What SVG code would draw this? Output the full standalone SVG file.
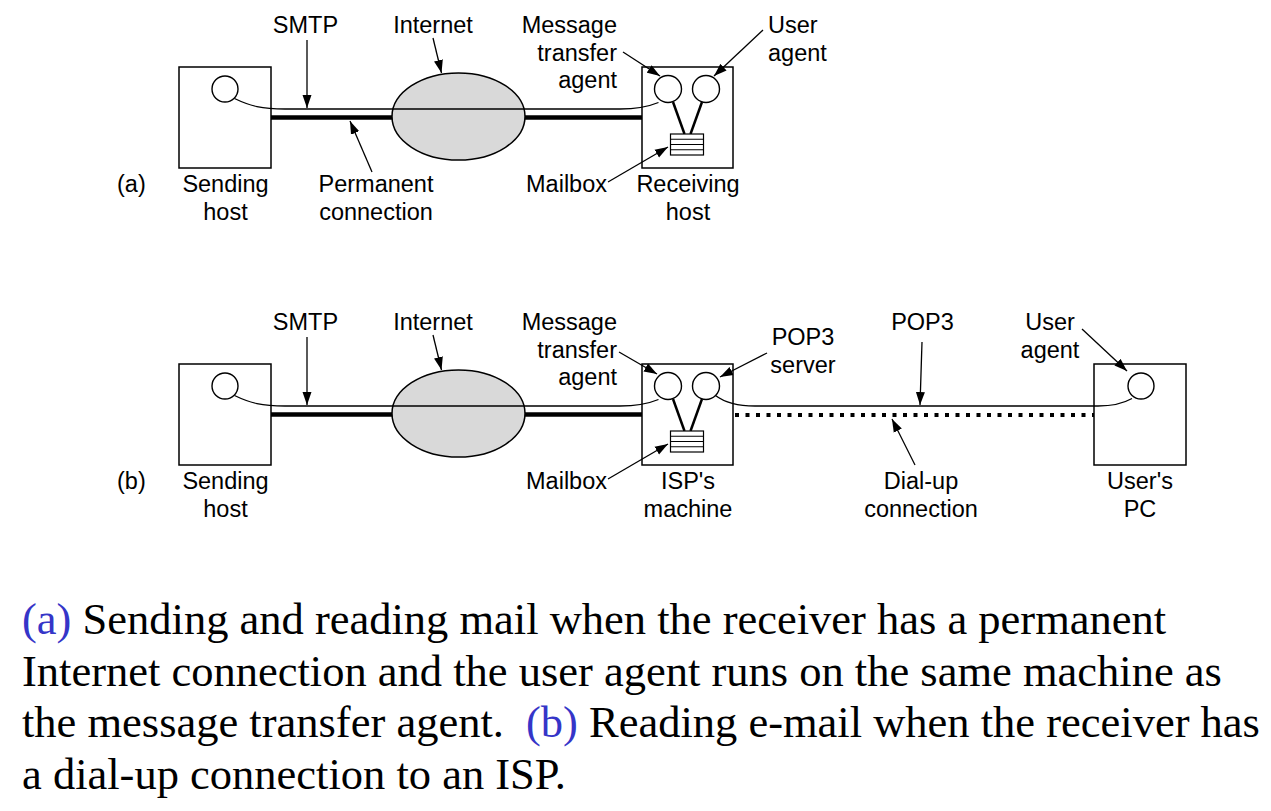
<svg xmlns="http://www.w3.org/2000/svg" width="1271" height="811" viewBox="0 0 1271 811">
<defs>
<marker id="ah" markerUnits="userSpaceOnUse" markerWidth="14" markerHeight="10" refX="13" refY="5" orient="auto">
<path d="M0,0.5 L13,5 L0,9.5 Z" fill="#000"/>
</marker>
<style>
.box{fill:#fff;stroke:#000;stroke-width:1.5}
.c{fill:#fff;stroke:#000;stroke-width:1.4}
.net{fill:#d9d9d9;stroke:#000;stroke-width:1.5}
.thin{fill:none;stroke:#000;stroke-width:1.3}
.thick{fill:none;stroke:#000;stroke-width:4.5}
.leg{fill:none;stroke:#000;stroke-width:2.5}
.dot{fill:none;stroke:#000;stroke-width:4;stroke-dasharray:4 6.5}
.arr{fill:none;stroke:#000;stroke-width:1.3;marker-end:url(#ah)}
.mb{fill:#fff;stroke:#000;stroke-width:1.2}
.t{font-family:"Liberation Sans",Arial,sans-serif;font-size:23.5px;fill:#000}
.m{text-anchor:middle}
.e{text-anchor:end}
.cap{font-family:"Liberation Serif","Times New Roman",serif;font-size:44.5px;fill:#000}
.blue{fill:#3535c8}
</style>
</defs>
<rect width="1271" height="811" fill="#fff"/>

<!-- ===== (a) ===== -->
<g id="a-sending-host">
<rect class="box" x="179" y="67" width="92" height="101"/>
<circle class="c" cx="225" cy="89" r="13"/>
</g>
<g id="a-receiving-host">
<rect class="box" x="642" y="67" width="91" height="101"/>
</g>
<g id="a-connectors">
<line class="thick" x1="271" y1="117.5" x2="395" y2="117.5"/>
<line class="thick" x1="522" y1="117.5" x2="642" y2="117.5"/>
</g>
<g id="a-internet">
<ellipse class="net" cx="458.5" cy="116.5" rx="66.5" ry="43.5"/>
</g>
<g id="a-receiving-parts">
<line class="leg" x1="673" y1="102" x2="684.5" y2="134"/>
<line class="leg" x1="702" y1="102" x2="690.5" y2="134"/>
<circle class="c" cx="668" cy="89" r="13.5"/>
<circle class="c" cx="706" cy="89" r="13.5"/>
<g id="a-mailbox">
<rect class="mb" x="670.5" y="134" width="33" height="21"/>
<line class="mb" x1="670.5" y1="139.25" x2="703.5" y2="139.25"/>
<line class="mb" x1="670.5" y1="144.5" x2="703.5" y2="144.5"/>
<line class="mb" x1="670.5" y1="149.75" x2="703.5" y2="149.75"/>
</g>
</g>
<g id="a-lines">
<path class="thin" d="M234.5,98.5 C250,106 262,109 285,109 L620,109 C638,109 650,106 658.5,102.5"/>
</g>
<g id="a-arrows">
<line class="arr" x1="307" y1="40" x2="307" y2="108"/>
<line class="arr" x1="433" y1="38" x2="441.5" y2="73"/>
<line class="arr" x1="372" y1="172" x2="350" y2="121"/>
<line class="arr" x1="623" y1="52" x2="660" y2="76"/>
<line class="arr" x1="763" y1="30" x2="714" y2="76"/>
<line class="arr" x1="608" y1="182" x2="668" y2="147"/>
</g>
<g id="a-labels" class="t">
<text x="305.5" y="33" class="m">SMTP</text>
<text x="433" y="33" class="m">Internet</text>
<text x="617" y="33" class="e">Message</text>
<text x="617" y="60.5" class="e">transfer</text>
<text x="617" y="88" class="e">agent</text>
<text x="768" y="33">User</text>
<text x="768" y="60.5">agent</text>
<text x="117" y="192">(a)</text>
<text x="225.5" y="192" class="m">Sending</text>
<text x="225.5" y="220" class="m">host</text>
<text x="376" y="192" class="m">Permanent</text>
<text x="376" y="220" class="m">connection</text>
<text x="607" y="192" class="e">Mailbox</text>
<text x="688" y="192" class="m">Receiving</text>
<text x="688" y="220" class="m">host</text>
</g>

<!-- ===== (b) ===== -->
<g id="b-sending-host">
<rect class="box" x="179" y="364" width="92" height="101"/>
<circle class="c" cx="225" cy="386" r="13"/>
</g>
<g id="b-isp-machine">
<rect class="box" x="642" y="364" width="91" height="101"/>
</g>
<g id="b-users-pc">
<rect class="box" x="1094" y="364" width="92" height="101"/>
<circle class="c" cx="1141" cy="386" r="13"/>
</g>
<g id="b-connectors">
<line class="thick" x1="271" y1="414.5" x2="395" y2="414.5"/>
<line class="thick" x1="522" y1="414.5" x2="642" y2="414.5"/>
<line class="dot" x1="735" y1="415" x2="1094" y2="415"/>
</g>
<g id="b-internet">
<ellipse class="net" cx="458.5" cy="413.5" rx="66.5" ry="43.5"/>
</g>
<g id="b-isp-parts">
<line class="leg" x1="673" y1="399" x2="684.5" y2="431"/>
<line class="leg" x1="702" y1="399" x2="690.5" y2="431"/>
<circle class="c" cx="668" cy="386" r="13.5"/>
<circle class="c" cx="706" cy="386" r="13.5"/>
<g id="b-mailbox">
<rect class="mb" x="670.5" y="431" width="33" height="21"/>
<line class="mb" x1="670.5" y1="436.25" x2="703.5" y2="436.25"/>
<line class="mb" x1="670.5" y1="441.5" x2="703.5" y2="441.5"/>
<line class="mb" x1="670.5" y1="446.75" x2="703.5" y2="446.75"/>
</g>
</g>
<g id="b-lines">
<path class="thin" d="M234.5,395.5 C250,403 262,406 285,406 L620,406 C638,406 650,403 658.5,399.5"/>
<path class="thin" d="M715.5,395.5 C724,402 735,406 755,406 L1098,406 C1112,406 1124,403 1132,398.5"/>
</g>
<g id="b-arrows">
<line class="arr" x1="307" y1="337" x2="307" y2="405"/>
<line class="arr" x1="433" y1="335" x2="441.5" y2="370"/>
<line class="arr" x1="619" y1="352" x2="657" y2="374"/>
<line class="arr" x1="767" y1="353" x2="720" y2="377"/>
<line class="arr" x1="608" y1="479" x2="668" y2="444"/>
<line class="arr" x1="922" y1="342" x2="920" y2="405"/>
<line class="arr" x1="915" y1="465" x2="892" y2="419"/>
<line class="arr" x1="1082" y1="329" x2="1127" y2="371"/>
</g>
<g id="b-labels" class="t">
<text x="305.5" y="330" class="m">SMTP</text>
<text x="433" y="330" class="m">Internet</text>
<text x="617" y="330" class="e">Message</text>
<text x="617" y="357.5" class="e">transfer</text>
<text x="617" y="385" class="e">agent</text>
<text x="803" y="345" class="m">POP3</text>
<text x="803" y="372.5" class="m">server</text>
<text x="922.5" y="330" class="m">POP3</text>
<text x="1050" y="330" class="m">User</text>
<text x="1050" y="357.5" class="m">agent</text>
<text x="117" y="489">(b)</text>
<text x="225.5" y="489" class="m">Sending</text>
<text x="225.5" y="517" class="m">host</text>
<text x="607" y="489" class="e">Mailbox</text>
<text x="688" y="489" class="m">ISP's</text>
<text x="688" y="517" class="m">machine</text>
<text x="921" y="489" class="m">Dial-up</text>
<text x="921" y="517" class="m">connection</text>
<text x="1140" y="489" class="m">User's</text>
<text x="1140" y="517" class="m">PC</text>
</g>

<!-- ===== caption ===== -->
<g id="caption" class="cap">
<text x="22" y="634"><tspan class="blue">(a)</tspan> Sending and reading mail when the receiver has a permanent</text>
<text x="22" y="686">Internet connection and the user agent runs on the same machine as</text>
<text x="22" y="737">the message transfer agent. <tspan class="blue" dx="11">(b)</tspan> Reading e-mail when the receiver has</text>
<text x="22" y="789">a dial-up connection to an ISP.</text>
</g>
</svg>
